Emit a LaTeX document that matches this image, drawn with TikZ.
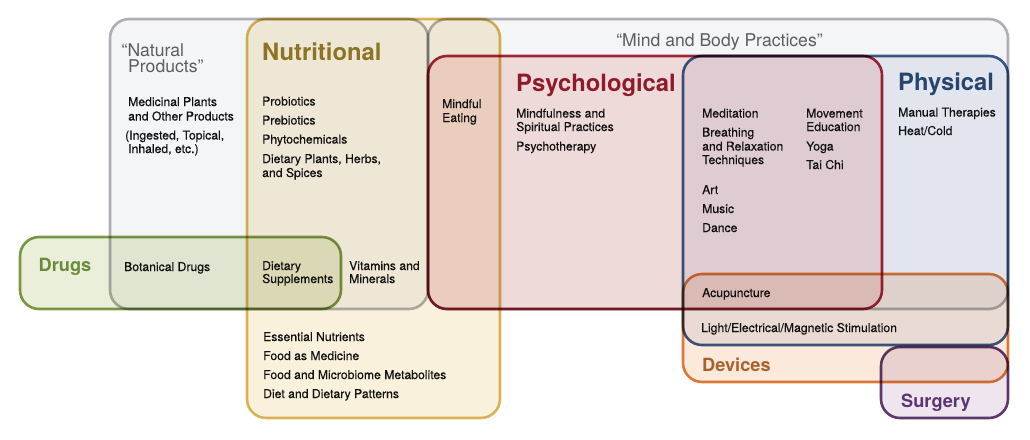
\documentclass[tikz,border=0pt]{standalone}
\usepackage{fontspec}
\setmainfont{TeX Gyre Heros}
\newfontfamily\medfont{TeX Gyre Heros}[FakeBold=0.35]
\definecolor{gfill}{HTML}{F4F5F7}
\definecolor{gline}{HTML}{B3B3B7}
\definecolor{nfill}{HTML}{FAF1DD}
\definecolor{nline}{HTML}{DDB85C}
\definecolor{dfill}{HTML}{E9EFD8}
\definecolor{dline}{HTML}{7E9C4A}
\definecolor{pfill}{HTML}{FAE3E2}
\definecolor{pline}{HTML}{A8293C}
\definecolor{hfill}{HTML}{EDEFF6}
\definecolor{hline}{HTML}{3E5C8C}
\definecolor{vfill}{HTML}{FBE9DB}
\definecolor{vline}{HTML}{DE7E3C}
\definecolor{sfill}{HTML}{EFE5EF}
\definecolor{sline}{HTML}{5F3A73}
\definecolor{gtext}{HTML}{5C5D5F}
\definecolor{ntext}{HTML}{8C7424}
\definecolor{dtext}{HTML}{6B8A3B}
\definecolor{ptext}{HTML}{8E1B2C}
\definecolor{htext}{HTML}{27466F}
\definecolor{vtext}{HTML}{A9612C}
\definecolor{stext}{HTML}{5B3571}
\definecolor{body}{HTML}{111111}
\begin{document}
\begin{tikzpicture}[x=1pt,y=-1pt,
  region/.style={rounded corners=19pt},
  edge/.style={rounded corners=19pt, line width=2.6pt, draw=#1},
  txt/.style={anchor=base west, inner sep=0pt, font=\medfont\fontsize{12.2}{14}\selectfont, text=body},
  bighead/.style={anchor=base west, inner sep=0pt, font=\fontsize{23.8}{26}\selectfont\bfseries, text=#1},
  smallhead/.style={anchor=base west, inner sep=0pt, font=\fontsize{18.2}{20}\selectfont\bfseries, text=#1},
  quotehead/.style={inner sep=0pt, font=\fontsize{17.6}{20}\selectfont, text=gtext}
]
\useasboundingbox (0,0) rectangle (1030,439);
\fill[white] (0,0) rectangle (1030,439);

\begin{scope}[blend mode=multiply]
  % fills
  \fill[region, gfill] (110,19) rectangle (428,309);
  \fill[region, gfill] (428,19) rectangle (1008,309);
  \fill[region, nfill] (247,19) rectangle (500,418);
  \fill[region, dfill] (20,237) rectangle (341,309);
  \fill[region, pfill] (428,56) rectangle (882,309);
  \fill[region, hfill] (683,56) rectangle (1008,345);
  \fill[region, vfill] (683,274) rectangle (1008,382);
  \fill[region, sfill] (881,347) rectangle (1008,418);
  % outlines
  \draw[edge=gline] (110,19) rectangle (428,309);
  \draw[edge=gline] (428,19) rectangle (1008,309);
  \draw[edge=nline] (247,19) rectangle (500,418);
  \draw[edge=dline] (20,237) rectangle (341,309);
  \draw[edge=pline] (428,56) rectangle (882,309);
  \draw[edge=hline] (683,56) rectangle (1008,345);
  \draw[edge=vline] (683,274) rectangle (1008,382);
  \draw[edge=sline] (881,347) rectangle (1008,418);
\end{scope}

% headings
\node[quotehead, anchor=base west] (natq1) at (121.5,56) {“Natural};
\node[quotehead, anchor=base west] (natq2) at (128,72) {Products”};
\node[quotehead, anchor=base] (mindq) at (719.5,46) {“Mind and Body Practices”};
\node[bighead=ntext] (nutr) at (262,60) {Nutritional};
\node[bighead=ptext] (psych) at (516,91) {Psychological};
\node[bighead=htext] (phys) at (898,90.5) {Physical};
\node[smallhead=dtext] (drugs) at (38.5,271) {Drugs};
\node[smallhead=vtext] (dev) at (702,371) {Devices};
\node[smallhead=stext] (surg) at (901,407) {Surgery};

% body texts
\foreach \nm/\xx/\yy/\tx in {
  np1/128/106/Medicinal Plants,
  np2/128/120.5/and Other Products,
  {np3/125/139.5/(Ingested, Topical,},
  {np4/128/153/Inhaled, etc.)},
  bot/124/271/Botanical Drugs,
  nu1/262/105.5/Probiotics,
  nu2/262/124.5/Prebiotics,
  nu3/262/143.5/Phytochemicals,
  {nu4/262/163/Dietary Plants, Herbs,},
  nu5/262/177/and Spices,
  ds1/262/270/Dietary,
  ds2/262/283/Supplements,
  vm1/349/270/Vitamins and,
  vm2/349/283/Minerals,
  en1/263/341/Essential Nutrients,
  en2/263/360/Food as Medicine,
  en3/263/379/Food and Microbiome Metabolites,
  en4/263/398/Diet and Dietary Patterns,
  me1/442/108/Mindful,
  me2/442/122/Eating,
  ps1/516/117.5/Mindfulness and,
  ps2/516/131/Spiritual Practices,
  ps3/516/150.5/Psychotherapy,
  mb1/702/117.5/Meditation,
  mb2/702/136.5/Breathing,
  mb3/702/150.5/and Relaxation,
  mb4/702/164/Techniques,
  mb5/702/194/Art,
  mb6/702/213/Music,
  mb7/702/232/Dance,
  mv1/806/117.5/Movement,
  mv2/806/131/Education,
  mv3/806/150.5/Yoga,
  mv4/806/169/Tai Chi,
  ph1/898/116.5/Manual Therapies,
  acu/702/297/Acupuncture}
  \node[txt] (\nm) at (\xx,\yy) {\tx};
\node[txt] (ph2) at (898,135) {Heat/Cold};
\node[txt] (stim) at (701,332) {Light/Electrical/Magnetic Stimulation};
\end{tikzpicture}
\end{document}
